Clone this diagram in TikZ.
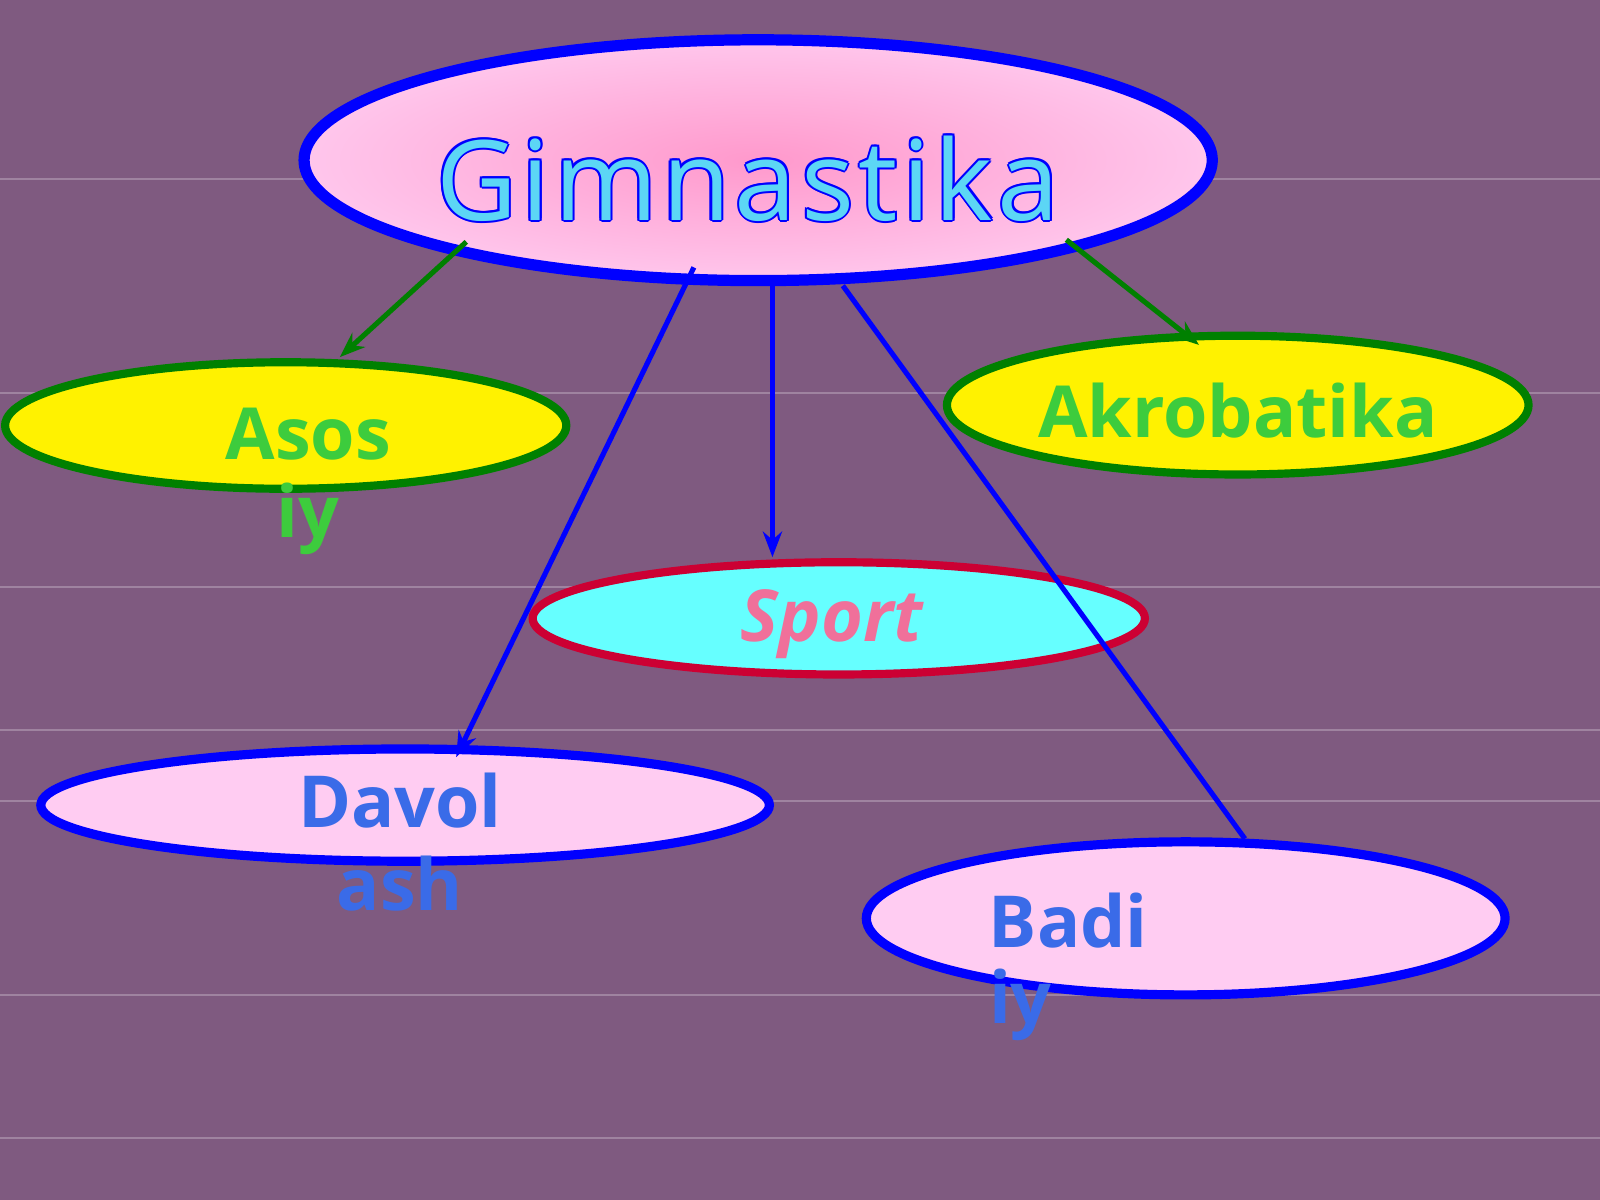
\documentclass[tikz,border=0pt]{standalone}
\usepackage{fontspec}
\setmainfont{Open Sans}
\usetikzlibrary{arrows.meta}
\definecolor{bgpurple}{HTML}{7F5A80}
\definecolor{topink}{HTML}{FFC6EC}
\definecolor{lightpink}{HTML}{FFCCF2}
\definecolor{txtgreen}{HTML}{3DCC3D}
\definecolor{txtblue}{HTML}{3A6BE8}
\definecolor{sportcyan}{HTML}{66FFFF}
\definecolor{sportpink}{HTML}{F0709A}
\definecolor{titlecyan}{HTML}{5CD6F5}
\tikzset{
  greenarrow/.style={draw=green!50!black, line width=0.5mm, -{Stealth[length=2.5mm]}},
  bluearrow/.style={draw=blue, line width=0.5mm, -{Stealth[length=2.5mm]}},
  lbl/.style={font=\fontsize{20}{20}\selectfont\bfseries},
  titlefont/.style={font=\fontsize{31}{31}\selectfont\addfontfeature{LetterSpace=4}},
}
\begin{document}
\begin{tikzpicture}[x=0.01cm,y=-0.01cm]
				\fill[bgpurple] (0,0) rectangle (1568,1176);
				\useasboundingbox (0,0) rectangle (1568,1176);
				\foreach \yy in {175,385,575,715,785,975,1115}
					\draw[white!25!bgpurple, line width=0.2mm] (0,\yy) -- (1568,\yy);
				% ovals
				\shade[inner color=pink!80!magenta, outer color=topink] (743,157) ellipse (445 and 118);
				\draw[blue, line width=1.1mm] (743,157) ellipse (445 and 118);
				\filldraw[fill=yellow, draw=green!50!black, line width=0.8mm] (280,417) ellipse (275 and 62);
				\filldraw[fill=yellow, draw=green!50!black, line width=0.8mm] (1213,397) ellipse (285 and 68);
				\filldraw[fill=sportcyan, draw=purple!80!red, line width=0.8mm] (822,606) ellipse (300 and 55);
				\filldraw[fill=lightpink, draw=blue, line width=0.9mm] (397,789) ellipse (357 and 55);
				\filldraw[fill=lightpink, draw=blue, line width=0.9mm] (1162,900) ellipse (313 and 75);
				% title with outline
				\foreach \dx/\dy in {-2/0,2/0,0/-2,0/2,-1.5/-1.5,1.5/1.5,-1.5/1.5,1.5/-1.5}
					\node[titlefont, text=blue] at (733+\dx,175+\dy) {Gimnastika};
				\node[titlefont, text=titlecyan] (gim) at (733,175) {Gimnastika};
				% texts
				\node[lbl, text=txtgreen] (asos) at (302,425) {Asos};
				\node[lbl, text=txtgreen] (asos2) at (302,508) {iy};
				\node[lbl, text=txtgreen] (akro) at (1213,402) {Akrobatika};
				\node[text=sportpink, font=\fontsize{20}{20}\selectfont\bfseries\itshape] (sport) at (815,612) {Sport};
				\node[lbl, text=txtblue] (davol) at (392,785) {Davol};
				\node[lbl, text=txtblue] (davol2) at (392,866) {ash};
				\node[lbl, text=txtblue] (badi) at (1047,902) {Badi};
				\node[lbl, text=txtblue] (badi2) at (1000,985) {iy};
				% connectors
				\coordinate (g1) at (457,237);
				\coordinate (a1) at (333,350);
				\coordinate (g2) at (1045,235);
				\coordinate (k1) at (1175,338);
				\coordinate (g3) at (680,262);
				\coordinate (d1) at (447,742);
				\coordinate (g4) at (757,280);
				\coordinate (s1) at (757,546);
				\coordinate (g5) at (826,280);
				\coordinate (b1) at (1220,822);
				\draw[greenarrow] (g1) -- (a1);
				\draw[greenarrow] (g2) -- (k1);
				\draw[bluearrow] (g3) -- (d1);
				\draw[bluearrow] (g4) -- (s1);
				\draw[blue, line width=0.5mm] (g5) -- (b1);
			\end{tikzpicture}
\end{document}
